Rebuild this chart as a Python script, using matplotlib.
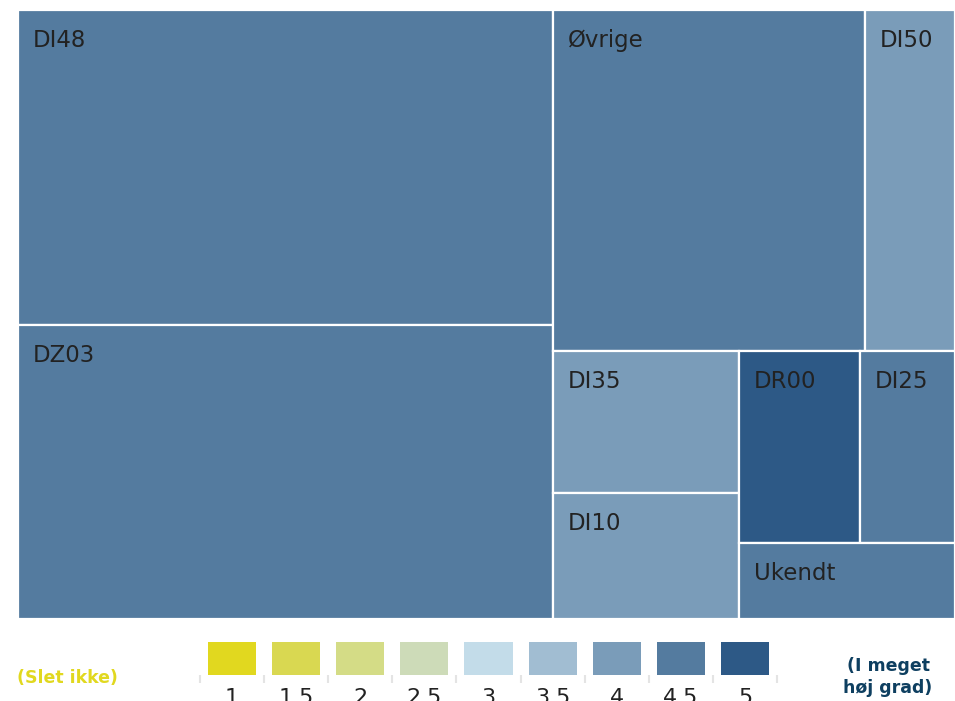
import matplotlib
matplotlib.use("Agg")
import matplotlib.pyplot as plt
from matplotlib.patches import Rectangle

# treemap data (size, score 1-5)
labels = ["DI48", "DZ03", "Øvrige", "DI50", "DI35", "DI10", "DR00", "DI25", "Ukendt"]
sizes = [168.5, 157.3, 106.4, 30.7, 26.4, 23.4, 23.2, 18.2, 16.4]
scores = [4.5, 4.5, 4.5, 4.0, 4.0, 4.0, 5.0, 4.5, 4.5]

# colour scale
scale_ticks = [1, 1.5, 2, 2.5, 3, 3.5, 4, 4.5, 5]
scale_labels = ["1", "1.5", "2", "2.5", "3", "3.5", "4", "4.5", "5"]
scale_colors = ["#e1d81f", "#d9d851", "#d4dc86", "#cddbb8", "#c3dce9",
                "#a1bdd2", "#7a9cb9", "#547b9f", "#2d5986"]


def color_for(score):
    return scale_colors[scale_ticks.index(score)]


def squarify(values, x0, y0, x1, y1, ratio=(1 + 5 ** 0.5) / 2):
    # same idea as d3.treemapSquarify
    rects = []
    total = sum(values)
    i0 = 0
    n = len(values)
    while i0 < n:
        dx, dy = x1 - x0, y1 - y0
        i1 = i0
        s = values[i1]
        i1 += 1
        vmin = vmax = s
        alpha = max(dy / dx, dx / dy) / (total * ratio)
        beta = s * s * alpha
        best = max(vmax / beta, beta / vmin)
        while i1 < n:
            v = values[i1]
            s2 = s + v
            mn, mx = min(vmin, v), max(vmax, v)
            beta = s2 * s2 * alpha
            r = max(mx / beta, beta / mn)
            if r > best:
                break
            s, vmin, vmax, best = s2, mn, mx, r
            i1 += 1
        row = values[i0:i1]
        if dx < dy:
            h = dy * s / total
            k = dx / s
            xx = x0
            for v in row:
                rects.append((xx, y0, v * k, h))
                xx += v * k
            y0 += h
        else:
            w = dx * s / total
            k = dy / s
            yy = y0
            for v in row:
                rects.append((x0, yy, w, v * k))
                yy += v * k
            x0 += w
        total -= s
        i0 = i1
    return rects


fig = plt.figure(figsize=(9.55, 7.01), dpi=100)
fig.patch.set_facecolor("white")

# main treemap area (pixels: x 18-955, y 10-619)
W, H = 937, 609
ax = fig.add_axes([18 / 955, (701 - 619) / 701, W / 955, H / 701])
ax.set_xlim(0, W)
ax.set_ylim(H, 0)
ax.axis("off")

for lab, (x, y, w, h), sc in zip(labels, squarify(sizes, 0, 0, W, H), scores):
    ax.add_patch(Rectangle((x, y), w, h, facecolor=color_for(sc),
                           edgecolor="white", linewidth=1.6))
    ax.annotate(lab, (x, y), xytext=(10.5, -13.5), textcoords="offset points",
                ha="left", va="top", fontsize=16.5, color="#222222")

# colour legend
lax = fig.add_axes([200 / 955, (701 - 675) / 701, 577 / 955, 33 / 701])
pos = list(range(len(scale_ticks)))
lax.bar(pos, [1] * len(pos), width=0.75, color=scale_colors, align="center")
lax.set_xlim(-0.5, len(pos) - 0.5)
lax.set_ylim(0, 1)
for s in lax.spines.values():
    s.set_visible(False)
lax.set_yticks([])
lax.set_xticks(pos)
lax.set_xticklabels(scale_labels, fontsize=16, color="#222222")
lax.set_xticks([p - 0.5 for p in pos] + [len(pos) - 0.5], minor=True)
lax.tick_params(axis="x", which="major", length=0, pad=9)
lax.tick_params(axis="x", which="minor", length=6, width=1.5, color="#e4e4e4")

fig.text(67 / 955, 1 - 678 / 701, "(Slet ikke)", ha="center", va="center",
         fontsize=12.5, fontweight="bold", color="#e1d81f")
fig.text(888 / 955, 1 - 677 / 701, "(I meget\nhøj grad)", ha="center", va="center",
         fontsize=12.5, fontweight="bold", color="#0e3f60", linespacing=1.3)

fig.savefig("out.png", dpi=100, facecolor="white")
